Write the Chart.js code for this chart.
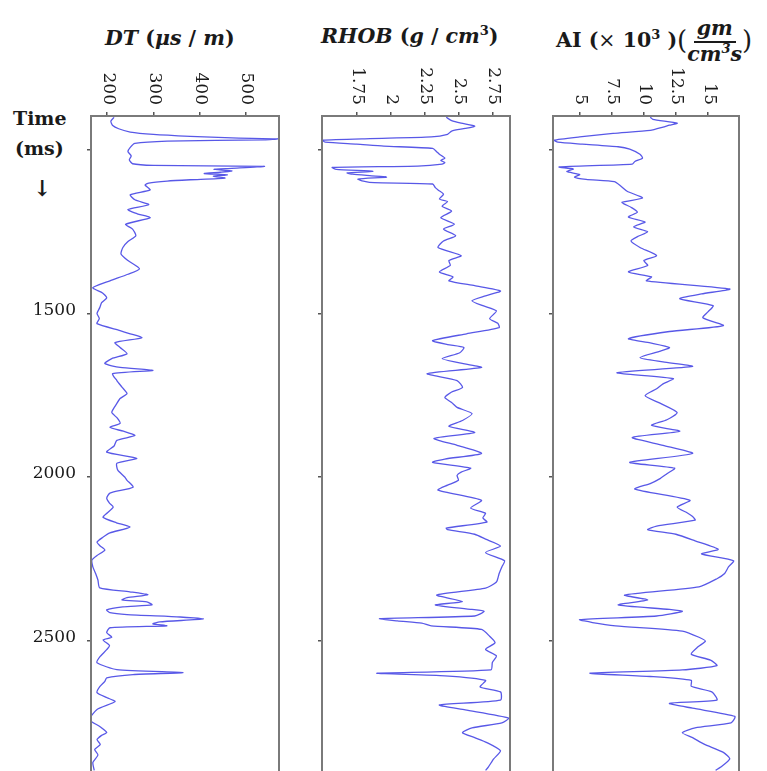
<!DOCTYPE html>
<html>
<head>
<meta charset="utf-8">
<script src="https://cdn.jsdelivr.net/npm/chart.js@4"></script>
<style>
  body { margin: 0; background: #fff; width: 767px; height: 771px; overflow: hidden; position: relative; font-family: "DejaVu Serif", serif; color: #1a1a1a; }
  canvas { position: absolute; top: 0; }
  .title { position: absolute; white-space: nowrap; font-weight: bold; font-size: 20.5px; line-height: 1; }
  .title i { font-style: italic; }
  .title sup { font-size: 13px; vertical-align: 8px; line-height: 0; }
  .frac { display: inline-flex; flex-direction: column; align-items: center; vertical-align: middle; font-style: italic; }
  .frac .num { border-bottom: 2px solid #1a1a1a; padding: 0 3px 2px; }
  .frac .den { padding-top: 1px; }
  .big { font-size: 26px; font-weight: normal; vertical-align: -2px; }
  .side { position: absolute; font-weight: bold; font-size: 19px; }
</style>
</head>
<body>

<div class="title" style="left:105px; top:28px;"><i>DT</i> (<i>μs</i> / <i>m</i>)</div>
<div class="title" style="left:321px; top:26px;"><i>RHOB</i> (<i>g</i> / <i>cm</i><sup>3</sup>)</div>
<div class="title" style="left:556px; top:18px;">AI (<span style="font-weight:normal">×</span> 10<sup>3</sup> )<span class="big">(</span><span class="frac"><span class="num">gm</span><span class="den">cm<sup>3</sup>s</span></span><span class="big">)</span></div>

<div class="side" style="left:13px; top:107px;">Time</div>
<div class="side" style="left:15px; top:137px;">(ms)</div>
<div class="side" style="left:33px; top:175px; font-size:22px;">↓</div>

<canvas id="c1" width="300" height="771" style="left:0px"></canvas>
<canvas id="c2" width="230" height="771" style="left:300px"></canvas>
<canvas id="c3" width="237" height="771" style="left:530px"></canvas>

<script>
// 시간축 (ms), 위에서 아래로 증가
const timeMin = 896;
const timeMax = 2899;
const timeTicks = [1000, 1500, 2000, 2500];
const timeTickLabels = ['', '1500', '2000', '2500'];

// DT (µs/m)
const dtTicks = [200, 300, 400, 500];
const dtTime = [900, 912, 925, 935, 945, 952, 958, 963, 966, 969, 973, 980, 992, 1005, 1018, 1030, 1042, 1047, 1050, 1056,
  1059, 1064, 1068, 1072, 1076, 1080, 1086, 1091, 1095, 1101, 1107, 1122, 1137, 1152, 1167, 1182, 1195, 1207, 1227, 1242,
  1262, 1280, 1298, 1318, 1338, 1363, 1380, 1400, 1421, 1437, 1452, 1467, 1482, 1500, 1515, 1531, 1552, 1562, 1574, 1589,
  1604, 1623, 1638, 1653, 1665, 1674, 1684, 1705, 1725, 1745, 1760, 1775, 1802, 1820, 1836, 1848, 1860, 1873, 1888, 1905,
  1924, 1943, 1958, 1979, 2000, 2010, 2031, 2049, 2065, 2080, 2092, 2110, 2123, 2140, 2153, 2171, 2185, 2199, 2211, 2223,
  2240, 2254, 2275, 2295, 2315, 2339, 2351, 2360, 2369, 2376, 2382, 2391, 2397, 2406, 2415, 2421, 2428, 2434, 2443, 2449,
  2455, 2461, 2476, 2490, 2498, 2515, 2528, 2550, 2568, 2589, 2598, 2604, 2614, 2625, 2641, 2659, 2675, 2687, 2711, 2742,
  2763, 2781, 2790, 2803, 2818, 2833, 2850, 2873, 2897];
const dtValues = [215, 208, 212, 225, 250, 300, 380, 470, 570, 540, 330, 260, 250, 245, 252, 248, 255, 300, 540, 470,
  430, 470, 445, 410, 460, 430, 455, 380, 330, 290, 282, 293, 250, 260, 290, 245, 265, 293, 240, 255,
  262, 245, 234, 230, 245, 270, 245, 206, 169, 190, 199, 188, 184, 178, 183, 178, 228, 250, 275, 217,
  228, 243, 210, 195, 228, 299, 212, 221, 232, 243, 228, 221, 210, 222, 228, 206, 235, 260, 221, 215,
  199, 264, 221, 223, 238, 243, 256, 206, 199, 205, 213, 200, 191, 220, 249, 206, 190, 178, 185, 195,
  178, 167, 169, 175, 180, 184, 249, 288, 243, 232, 286, 297, 234, 199, 206, 243, 358, 408, 314, 299,
  329, 206, 199, 210, 191, 205, 199, 184, 178, 221, 364, 256, 199, 195, 184, 178, 200, 217, 178, 162,
  184, 199, 188, 178, 185, 173, 180, 169, 172];

// RHOB (g/cm3)
const rhobTicks = [1.75, 2, 2.25, 2.5, 2.75];
const rhobTime = [900, 910, 918, 927, 934, 942, 952, 960, 965, 970, 976, 982, 988, 995, 1005, 1013, 1025, 1032, 1038, 1043,
  1049, 1053, 1059, 1065, 1070, 1074, 1079, 1083, 1089, 1095, 1100, 1104, 1115, 1122, 1135, 1150, 1158, 1172, 1187, 1207,
  1227, 1242, 1262, 1278, 1298, 1323, 1338, 1353, 1373, 1388, 1400, 1415, 1431, 1446, 1461, 1476, 1492, 1516, 1530, 1543,
  1562, 1583, 1595, 1604, 1620, 1638, 1650, 1665, 1684, 1705, 1726, 1740, 1757, 1772, 1787, 1806, 1827, 1845, 1864, 1882,
  1903, 1928, 1945, 1955, 1973, 1985, 1995, 2010, 2025, 2040, 2071, 2095, 2111, 2125, 2138, 2156, 2161, 2175, 2190, 2211,
  2231, 2256, 2275, 2295, 2321, 2340, 2361, 2381, 2391, 2405, 2411, 2425, 2433, 2440, 2447, 2455, 2466, 2487, 2507, 2527,
  2547, 2567, 2590, 2600, 2608, 2622, 2642, 2657, 2682, 2697, 2712, 2737, 2752, 2767, 2782, 2797, 2812, 2837, 2862, 2887, 2897];
const rhobValues = [2.41, 2.45, 2.52, 2.62, 2.55, 2.45, 2.42, 2.30, 1.85, 1.50, 1.52, 1.75, 1.95, 2.31, 2.34, 2.36, 2.40, 2.37, 2.40, 2.38,
  2.20, 1.57, 1.60, 1.87, 1.68, 1.72, 1.86, 1.97, 1.76, 1.80, 1.88, 2.31, 2.33, 2.35, 2.39, 2.36, 2.42, 2.38, 2.45, 2.37,
  2.47, 2.39, 2.48, 2.39, 2.35, 2.52, 2.43, 2.44, 2.36, 2.46, 2.43, 2.62, 2.81, 2.70, 2.60, 2.68, 2.78, 2.73, 2.79, 2.80,
  2.56, 2.31, 2.42, 2.54, 2.51, 2.38, 2.50, 2.67, 2.27, 2.49, 2.53, 2.45, 2.40, 2.45, 2.49, 2.60, 2.53, 2.43, 2.62, 2.32,
  2.49, 2.67, 2.40, 2.31, 2.59, 2.52, 2.49, 2.50, 2.42, 2.35, 2.67, 2.59, 2.70, 2.68, 2.71, 2.41, 2.42, 2.62, 2.70, 2.81,
  2.70, 2.84, 2.82, 2.80, 2.78, 2.70, 2.34, 2.53, 2.33, 2.60, 2.69, 2.62, 1.92, 2.05, 2.23, 2.30, 2.67, 2.73, 2.77, 2.70,
  2.78, 2.75, 2.74, 1.90, 2.40, 2.70, 2.66, 2.81, 2.81, 2.36, 2.55, 2.87, 2.82, 2.60, 2.53, 2.62, 2.71, 2.81, 2.76, 2.72, 2.70];

// AI (x10^3 gm/cm3 s)
const aiTicks = [5, 7.5, 10, 12.5, 15];
const aiTime = [900, 906, 918, 924, 930, 940, 949, 960, 970, 976, 982, 990, 997, 1013, 1025, 1035, 1043, 1052, 1058, 1066,
  1075, 1083, 1090, 1097, 1110, 1126, 1147, 1160, 1175, 1190, 1205, 1220, 1235, 1250, 1265, 1278, 1298, 1323, 1338, 1353,
  1373, 1388, 1400, 1425, 1440, 1455, 1476, 1495, 1513, 1537, 1555, 1577, 1590, 1604, 1615, 1635, 1648, 1662, 1681, 1699,
  1715, 1730, 1751, 1775, 1803, 1825, 1842, 1860, 1879, 1903, 1928, 1955, 1973, 1990, 2004, 2020, 2037, 2071, 2092, 2110,
  2121, 2132, 2150, 2161, 2175, 2195, 2221, 2235, 2256, 2275, 2295, 2311, 2336, 2361, 2376, 2391, 2405, 2411, 2425, 2436,
  2445, 2455, 2471, 2490, 2502, 2520, 2542, 2560, 2577, 2590, 2600, 2610, 2622, 2640, 2657, 2682, 2692, 2707, 2732, 2752,
  2767, 2782, 2797, 2817, 2842, 2862, 2887, 2897];
const aiValues = [10.5, 10.7, 12.6, 12.0, 11.5, 10.5, 7.6, 5.0, 3.0, 3.3, 5.2, 8.0, 8.9, 9.7, 9.9, 9.3, 9.1, 3.4, 4.5, 4.0,
  5.0, 4.6, 5.5, 7.7, 8.2, 8.7, 9.9, 8.3, 9.0, 9.5, 8.8, 10.1, 9.2, 10.3, 9.5, 9.0, 9.7, 11.0, 10.0, 10.3,
  8.8, 10.6, 10.2, 16.7, 14.5, 12.8, 15.4, 15.0, 14.6, 16.2, 12.0, 8.8, 10.5, 12.0, 11.3, 9.7, 11.5, 13.8, 7.9, 12.3,
  11.5, 11.0, 10.1, 11.3, 12.6, 11.8, 10.6, 12.8, 9.1, 11.5, 13.8, 8.9, 12.4, 11.8, 11.3, 10.5, 9.3, 13.6, 12.6, 13.4,
  13.8, 14.0, 11.0, 10.3, 12.5, 14.0, 15.8, 14.5, 17.0, 16.6, 16.3, 15.7, 14.3, 8.5, 10.3, 8.0, 12.0, 13.0, 11.0, 5.0,
  6.0, 7.8, 13.0, 14.3, 14.8, 14.2, 13.7, 15.2, 15.7, 13.0, 5.8, 10.5, 13.7, 13.7, 15.3, 15.7, 12.0, 13.8, 17.1, 16.8,
  14.0, 13.0, 13.8, 14.7, 16.2, 16.7, 16.0, 15.6];

const lineColor = 'rgba(70, 70, 228, 0.9)';
const frameColor = '#7a7a7a';
const labelFont = '17px "DejaVu Serif"';

// 눈금 라벨(상단은 시계방향 회전)과 틀을 직접 그림
const logDecor = {
  id: 'logDecor',
  afterDraw(chart, args, opts) {
    const ctx = chart.ctx;
    const xs = chart.scales.x;
    const ys = chart.scales.y;
    const area = chart.chartArea;
    ctx.save();
    ctx.fillStyle = '#1a1a1a';
    ctx.font = labelFont;
    ctx.textAlign = 'right';
    ctx.textBaseline = 'middle';
    opts.values.forEach((v, i) => {
      const px = xs.getPixelForValue(v);
      ctx.save();
      ctx.translate(px + 1, area.top - 11);
      ctx.rotate(Math.PI / 2);
      ctx.fillText(String(v), 0, 0);
      ctx.restore();
    });
    if (opts.timeLabels) {
      ctx.textBaseline = 'alphabetic';
      timeTicks.forEach((t, i) => {
        ctx.fillText(timeTickLabels[i], area.left - 15, ys.getPixelForValue(t) + 1);
      });
    }
    // 틀: 왼쪽, 위, 오른쪽 (아래는 잘림)
    ctx.strokeStyle = frameColor;
    ctx.lineWidth = 2;
    ctx.beginPath();
    ctx.moveTo(area.left, area.bottom + 2);
    ctx.lineTo(area.left, area.top);
    ctx.lineTo(area.right, area.top);
    ctx.lineTo(area.right, area.bottom + 2);
    ctx.stroke();
    ctx.restore();
  }
};

function makeLog(canvasId, times, values, xMin, xMax, xTicks, leftWidth, rightPad, showTimeLabels) {
  const points = times.map((t, i) => ({ x: values[i], y: t }));
  return new Chart(document.getElementById(canvasId), {
    type: 'scatter',
    data: {
      datasets: [{
        data: points,
        showLine: true,
        borderColor: lineColor,
        borderWidth: 1.3,
        pointRadius: 0,
        tension: 0.2
      }]
    },
    options: {
      responsive: false,
      animation: false,
      devicePixelRatio: 1,
      layout: { autoPadding: false, padding: { left: 0, right: rightPad, top: 0, bottom: 0 } },
      plugins: {
        legend: { display: false },
        tooltip: { enabled: false },
        logDecor: { values: xTicks, timeLabels: showTimeLabels }
      },
      scales: {
        x: {
          type: 'linear',
          position: 'top',
          min: xMin,
          max: xMax,
          afterBuildTicks: s => { s.ticks = xTicks.map(v => ({ value: v })); },
          afterFit: s => { s.height = 116; },
          ticks: { display: false },
          border: { display: false },
          grid: { drawOnChartArea: false, drawTicks: true, tickLength: 4, color: '#555', lineWidth: 1.5 }
        },
        y: {
          type: 'linear',
          reverse: true,
          min: timeMin,
          max: timeMax,
          afterBuildTicks: s => { s.ticks = timeTicks.map(v => ({ value: v })); },
          afterFit: s => { s.width = leftWidth; },
          ticks: { display: false },
          border: { display: false },
          grid: { drawOnChartArea: false, drawTicks: true, tickLength: 4, color: '#555', lineWidth: 1.5 }
        }
      }
    },
    plugins: [logDecor]
  });
}

makeLog('c1', dtTime, dtValues, 165, 572, dtTicks, 91, 21, true);
makeLog('c2', rhobTime, rhobValues, 1.495, 2.88, rhobTicks, 22, 20, false);
makeLog('c3', aiTime, aiValues, 2.92, 17.42, aiTicks, 23, 28, false);
</script>
</body>
</html>
